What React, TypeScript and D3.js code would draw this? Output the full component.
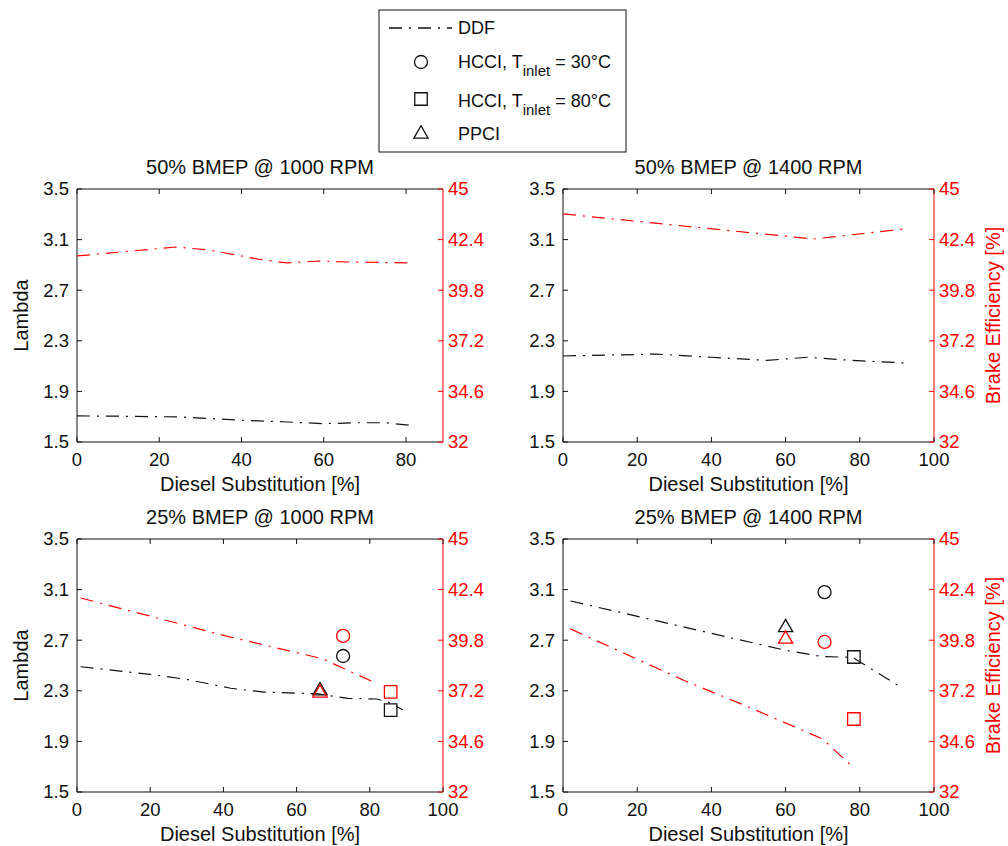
import React from "react";
import * as d3 from "d3";

type Pt = [number, number];

// Panel titles and x-axis setup
const panelTitles = [
  "50% BMEP @ 1000 RPM",
  "50% BMEP @ 1400 RPM",
  "25% BMEP @ 1000 RPM",
  "25% BMEP @ 1400 RPM",
];
const xMaxes = [89, 100, 100, 100];
const xTicksShort = [0, 20, 40, 60, 80];
const xTicksFull = [0, 20, 40, 60, 80, 100];
const lambdaTicks = [1.5, 1.9, 2.3, 2.7, 3.1, 3.5];
const effTicks = [32, 34.6, 37.2, 39.8, 42.4, 45];

// DDF lambda (left axis) per panel: [diesel substitution %, lambda]
const ddfLambda50_1000: Pt[] = [[0, 1.706], [10, 1.704], [25, 1.698], [40, 1.672], [50, 1.66], [60, 1.645], [68, 1.652], [75, 1.652], [81, 1.632]];
const ddfLambda50_1400: Pt[] = [[0, 2.18], [25, 2.195], [40, 2.17], [55, 2.145], [66, 2.17], [78, 2.145], [92, 2.125]];
const ddfLambda25_1000: Pt[] = [[1, 2.49], [20, 2.43], [30, 2.39], [42, 2.32], [51, 2.29], [66, 2.275], [74, 2.24], [82, 2.235], [85, 2.21], [89, 2.15]];
const ddfLambda25_1400: Pt[] = [[2, 3.01], [60, 2.62], [70, 2.57], [78, 2.565], [91, 2.33]];

// DDF brake efficiency (right axis) per panel: [diesel substitution %, efficiency %]
const ddfEff50_1000: Pt[] = [[0, 41.56], [10, 41.75], [24, 42.02], [32, 41.87], [44, 41.4], [51, 41.2], [59, 41.3], [66, 41.25], [81, 41.2]];
const ddfEff50_1400: Pt[] = [[0, 43.72], [67.5, 42.43], [92, 42.95]];
const ddfEff25_1000: Pt[] = [[1, 41.97], [40, 40.05], [67, 38.85], [81, 37.65]];
const ddfEff25_1400: Pt[] = [[2, 40.38], [33, 37.7], [50, 36.37], [70, 34.72], [78, 33.3]];

const ddfLambda = [ddfLambda50_1000, ddfLambda50_1400, ddfLambda25_1000, ddfLambda25_1400];
const ddfEff = [ddfEff50_1000, ddfEff50_1400, ddfEff25_1000, ddfEff25_1400];

// Single operating points at 25% BMEP (panel index, x, lambda, efficiency)
const hcci30Points = [
  { panel: 2, x: 72.7, lambda: 2.575, eff: 40.02 },
  { panel: 3, x: 70.5, lambda: 3.08, eff: 39.71 },
];
const hcci80Points = [
  { panel: 2, x: 85.7, lambda: 2.148, eff: 37.14 },
  { panel: 3, x: 78.4, lambda: 2.567, eff: 35.75 },
];
const ppciPoints = [
  { panel: 2, x: 66.4, lambda: 2.3, eff: 37.09 },
  { panel: 3, x: 60, lambda: 2.8, eff: 39.86 },
];

const RED = "#ff0000";
const INK = "#111";
const FONT = "'Liberation Sans', Arial, Helvetica, sans-serif";
const DASH = "13,7,2,7";

const cols: [number, number][] = [[77, 443], [563, 934]];
const rows: [number, number][] = [[189, 442], [539, 792]];

const circleSym = d3.symbol(d3.symbolCircle, Math.PI * 6.5 * 6.5)();
const squareSym = d3.symbol(d3.symbolSquare, 12.5 * 12.5)();
const triSym = d3.symbol(d3.symbolTriangle, 88)();

function Panel({ i }: { i: number }) {
  const [x0, x1] = cols[i % 2];
  const [y0, y1] = rows[Math.floor(i / 2)];
  const x = d3.scaleLinear().domain([0, xMaxes[i]]).range([x0, x1]);
  const yL = d3.scaleLinear().domain([1.5, 3.5]).range([y1, y0]);
  const yR = d3.scaleLinear().domain([32, 45]).range([y1, y0]);
  const xt = i === 0 ? xTicksShort : xTicksFull;
  const lineL = d3.line<Pt>().x((d) => x(d[0])).y((d) => yL(d[1]));
  const lineR = d3.line<Pt>().x((d) => x(d[0])).y((d) => yR(d[1]));
  const tk = 5;
  const markers = (pts: typeof hcci30Points, sym: string | null, key: string) =>
    pts
      .filter((p) => p.panel === i)
      .flatMap((p) => [
        <path key={key + "k"} d={sym || ""} transform={`translate(${x(p.x)},${yL(p.lambda)})`} fill="none" stroke={INK} strokeWidth={1.3} />,
        <path key={key + "r"} d={sym || ""} transform={`translate(${x(p.x)},${yR(p.eff)})`} fill="none" stroke={RED} strokeWidth={1.3} />,
      ]);

  return (
    <g>
      <text x={(x0 + x1) / 2} y={y0 - 15} textAnchor="middle" fontSize={20} fill={INK}>
        {panelTitles[i]}
      </text>
      {/* frame */}
      <line x1={x0} y1={y0} x2={x1} y2={y0} stroke={INK} />
      <line x1={x0} y1={y1} x2={x1} y2={y1} stroke={INK} />
      <line x1={x0} y1={y0} x2={x0} y2={y1} stroke={INK} />
      <line x1={x1} y1={y0} x2={x1} y2={y1} stroke={RED} />
      {/* x ticks */}
      {xt.map((t) => (
        <g key={"x" + t}>
          <line x1={x(t)} x2={x(t)} y1={y1} y2={y1 - tk} stroke={INK} />
          <line x1={x(t)} x2={x(t)} y1={y0} y2={y0 + tk} stroke={INK} />
          <text x={x(t)} y={y1 + 24} textAnchor="middle" fontSize={18.5} fill={INK}>
            {t}
          </text>
        </g>
      ))}
      {/* left ticks */}
      {lambdaTicks.map((t) => (
        <g key={"l" + t}>
          <line x1={x0} x2={x0 + tk} y1={yL(t)} y2={yL(t)} stroke={INK} />
          <text x={x0 - 8} y={yL(t)} dy="0.35em" textAnchor="end" fontSize={18.5} fill={INK}>
            {t.toFixed(1)}
          </text>
        </g>
      ))}
      {/* right ticks */}
      {effTicks.map((t) => (
        <g key={"r" + t}>
          <line x1={x1} x2={x1 - tk} y1={yR(t)} y2={yR(t)} stroke={RED} />
          <text x={x1 + 5} y={yR(t)} dy="0.35em" textAnchor="start" fontSize={18.5} fill={RED}>
            {String(t)}
          </text>
        </g>
      ))}
      <text x={(x0 + x1) / 2} y={y1 + 49} textAnchor="middle" fontSize={20} fill={INK}>
        Diesel Substitution [%]
      </text>
      {i % 2 === 0 ? (
        <text transform={`translate(28,${(y0 + y1) / 2}) rotate(-90)`} textAnchor="middle" fontSize={20} fill={INK}>
          Lambda
        </text>
      ) : (
        <text transform={`translate(1000,${(y0 + y1) / 2}) rotate(-90)`} textAnchor="middle" fontSize={20} fill={RED}>
          Brake Efficiency [%]
        </text>
      )}
      <path d={lineL(ddfLambda[i]) || ""} fill="none" stroke={INK} strokeWidth={1.2} strokeDasharray={DASH} />
      <path d={lineR(ddfEff[i]) || ""} fill="none" stroke={RED} strokeWidth={1.2} strokeDasharray={DASH} />
      {markers(hcci30Points, circleSym, "c")}
      {markers(hcci80Points, squareSym, "s")}
      {markers(ppciPoints, triSym, "t")}
    </g>
  );
}

function Legend() {
  return (
    <g fontSize={18} fill={INK}>
      <rect x={379} y={10} width={247} height={142} fill="#fff" stroke={INK} />
      <line x1={389} x2={452} y1={28} y2={28} stroke={INK} strokeWidth={1.4} strokeDasharray={DASH} />
      <text x={458} y={34}>DDF</text>
      <path d={circleSym || ""} transform="translate(421,62)" fill="none" stroke={INK} strokeWidth={1.3} />
      <text x={458} y={68}>
        HCCI, T<tspan fontSize={15} dy={8}>inlet</tspan>
        <tspan dy={-8}> = 30°C</tspan>
      </text>
      <path d={squareSym || ""} transform="translate(421,99)" fill="none" stroke={INK} strokeWidth={1.3} />
      <text x={458} y={107}>
        HCCI, T<tspan fontSize={15} dy={8}>inlet</tspan>
        <tspan dy={-8}> = 80°C</tspan>
      </text>
      <path d={triSym || ""} transform="translate(421,134)" fill="none" stroke={INK} strokeWidth={1.3} />
      <text x={458} y={140}>PPCI</text>
    </g>
  );
}

export default function App() {
  return (
    <svg
      width={1008}
      height={846}
      viewBox="0 0 1008 846"
      style={{ position: "absolute", left: 0, top: 0, background: "#fff", fontFamily: FONT }}
    >
      <rect width={1008} height={846} fill="#fff" />
      {[0, 1, 2, 3].map((i) => (
        <Panel key={i} i={i} />
      ))}
      <Legend />
    </svg>
  );
}
